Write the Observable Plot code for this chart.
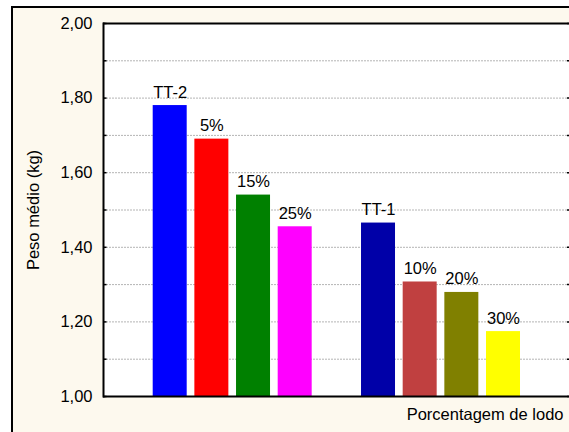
<!DOCTYPE html>
<html>
<head>
<meta charset="utf-8">
<script src="https://cdn.jsdelivr.net/npm/d3@7"></script>
<script src="https://cdn.jsdelivr.net/npm/@observablehq/plot@0.6"></script>
<style>
  html, body { margin: 0; padding: 0; background: #ffffff; width: 569px; height: 432px; overflow: hidden; }
  #outer { position: absolute; left: 10.5px; top: 6px; width: 620px; height: 480px;
           border-left: 2px solid #000; border-top: 2px solid #000; background: #fdf9ee; }
  #chart { position: absolute; left: 0; top: 0; }
  #chart svg { background: transparent; font-family: "Liberation Sans", Arial, sans-serif; }
</style>
</head>
<body>
<div id="outer"></div>
<div id="chart"></div>
<script>
// Data
const categories = ["TT-2", "5%", "15%", "25%", " ", "TT-1", "10%", "20%", "30%"];
const barLabels  = ["TT-2", "5%", "15%", "25%", "TT-1", "10%", "20%", "30%"];
const values     = [1.78, 1.69, 1.54, 1.455, 1.465, 1.307, 1.279, 1.174];
const colors     = ["#0000ff", "#ff0000", "#008000", "#ff00ff", "#0000a8", "#c04040", "#808000", "#ffff00"];
const majorTicks = [1.0, 1.2, 1.4, 1.6, 1.8, 2.0];
const minorTicks = [1.1, 1.2, 1.3, 1.4, 1.5, 1.6, 1.7, 1.8, 1.9];
const allTicks   = [1.0, 1.1, 1.2, 1.3, 1.4, 1.5, 1.6, 1.7, 1.8, 1.9, 2.0];
const yTitle = "Peso médio (kg)";
const xTitle = "Porcentagem de lodo";

const data = barLabels.map((c, i) => ({cat: c, value: values[i], color: colors[i]}));
const fmt = d => d.toFixed(2).replace(".", ",");

const chart = Plot.plot({
  width: 569,
  height: 432,
  marginLeft: 103,
  marginRight: 0,
  marginTop: 23,
  marginBottom: 36,
  style: {fontSize: "16.5px", fontFamily: "'Liberation Sans', Arial, sans-serif", background: "transparent", color: "#000"},
  x: {domain: categories, range: [152.7, 520], paddingInner: 0.184, paddingOuter: 0, round: false, axis: null},
  y: {domain: [1, 2], axis: null},
  marks: [
    Plot.frame({fill: "white", stroke: null}),
    Plot.ruleY(minorTicks, {stroke: "#b4b4b4", strokeWidth: 1, strokeDasharray: "2,1"}),
    Plot.barY(data, {x: "cat", y1: 1, y2: "value", fill: "color", inset: 0}),
    Plot.text(data, {x: "cat", y: "value", text: "cat", lineAnchor: "bottom", dy: -8, fill: "#000", fontSize: 16.5}),
    Plot.axisY({anchor: "left", ticks: majorTicks, tickSize: 0, tickPadding: 11, tickFormat: fmt, label: null, fontSize: 16.5}),
    Plot.axisY({anchor: "left", ticks: allTicks, tickSize: 3, dx: 3.5, tickFormat: () => "", label: null, strokeWidth: 1.5, stroke: "#000"}),
    Plot.axisY({anchor: "right", ticks: allTicks, tickSize: 3, dx: -3, tickFormat: () => "", label: null, strokeWidth: 1.5, stroke: "#000"}),
    Plot.ruleY([1, 2], {stroke: "#000", strokeWidth: 2}),
    Plot.frame({anchor: "left", stroke: "#000", strokeWidth: 2}),
    Plot.text([yTitle], {frameAnchor: "left", dx: -70, rotate: -90, textAnchor: "middle", lineAnchor: "middle", fontSize: 16.5, fill: "#000"}),
    Plot.text([xTitle], {frameAnchor: "bottom-right", dx: -6, dy: 18.7, textAnchor: "end", lineAnchor: "middle", fontSize: 16.5, fill: "#000"})
  ]
});
document.getElementById("chart").appendChild(chart);
</script>
</body>
</html>
